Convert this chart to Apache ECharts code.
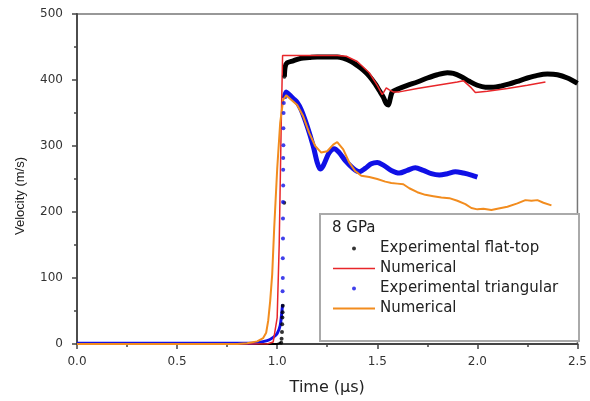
<!DOCTYPE html>
<html>
<head>
<meta charset="utf-8">
<script src="https://cdn.jsdelivr.net/npm/echarts@6/dist/echarts.min.js"></script>
<style>html,body{margin:0;padding:0;background:#fff;}#c{width:590px;height:401px;}</style>
</head>
<body>
<div id="c"></div>
<script>
// ---- data (time in µs, velocity in m/s) ----
var xTicks = [0.0, 0.5, 1.0, 1.5, 2.0, 2.5];
var yTicks = [0, 100, 200, 300, 400, 500];

var flatTopRiseDots = [[1.020,2],[1.022,8],[1.024,18],[1.025,30],[1.026,40],[1.027,48],[1.028,58],[1.035,214],[1.036,405]];
var flatTopBand = [[1.036,405],[1.04,420],[1.05,426],[1.08,429],[1.12,433],[1.16,434],[1.2,435],[1.25,435],[1.3,435],[1.33,433],[1.37,428],[1.40,422],[1.43,415],[1.46,406],[1.49,394],[1.51,384],[1.53,374],[1.545,364],[1.555,362],[1.565,372],[1.575,382],[1.6,386],[1.65,392],[1.7,397],[1.75,403],[1.8,408],[1.85,411],[1.88,410],[1.92,405],[1.96,398],[2.0,392],[2.04,389],[2.08,389],[2.12,391],[2.16,394],[2.2,398],[2.25,403],[2.3,407],[2.35,409],[2.4,408],[2.45,403],[2.5,395]];
var flatTopBase = [[0,0],[1.0,0],[1.02,2]];

var numFlat = [[0,0],[0.95,0],[0.98,3],[1.0,40],[1.01,150],[1.02,330],[1.027,437],[1.1,437],[1.2,437],[1.3,437],[1.345,436],[1.4,428],[1.46,411],[1.5,392],[1.525,378],[1.545,388],[1.56,385],[1.58,382],[1.61,382],[1.7,387],[1.8,392],[1.9,397],[1.93,399],[1.97,388],[1.99,381],[2.05,383],[2.15,387],[2.25,392],[2.34,397]];

var triBase = [[0,1],[0.85,1],[0.9,2],[0.95,5],[0.98,10],[1.0,16],[1.015,28],[1.022,45],[1.027,60]];
var triRiseDots = [[1.027,80],[1.028,100],[1.028,130],[1.029,160],[1.029,190],[1.029,215],[1.030,240],[1.030,264],[1.030,282],[1.031,301],[1.031,327],[1.032,350],[1.033,365]];
var triBand = [[1.034,372],[1.045,382],[1.06,378],[1.08,372],[1.1,366],[1.12,355],[1.15,330],[1.18,300],[1.2,275],[1.215,265],[1.23,270],[1.26,290],[1.285,296],[1.31,290],[1.34,278],[1.38,266],[1.41,261],[1.44,266],[1.47,273],[1.5,275],[1.53,271],[1.57,263],[1.61,259],[1.65,263],[1.69,267],[1.73,263],[1.77,258],[1.81,256],[1.85,258],[1.89,261],[1.93,259],[1.97,256],[2.0,253]];

var numTri = [[0,0],[0.8,0],[0.85,1],[0.9,4],[0.93,9],[0.945,17],[0.955,35],[0.965,65],[0.975,105],[0.985,175],[1.0,265],[1.015,335],[1.03,370],[1.045,377],[1.07,370],[1.1,362],[1.13,345],[1.16,320],[1.19,300],[1.22,290],[1.25,292],[1.28,302],[1.30,306],[1.33,295],[1.36,275],[1.39,262],[1.42,255],[1.46,253],[1.5,250],[1.54,246],[1.57,244],[1.6,243],[1.63,242],[1.66,236],[1.7,230],[1.74,226],[1.78,224],[1.82,222],[1.86,221],[1.9,217],[1.94,212],[1.97,206],[2.0,204],[2.03,205],[2.07,203],[2.1,205],[2.15,208],[2.2,213],[2.24,218],[2.27,217],[2.3,218],[2.33,214],[2.37,210]];

var legendTitle = '8 GPa';
var nameFlat = 'Experimental flat-top';
var nameNumA = 'Numerical';
var nameTri = 'Experimental triangular';
var nameNumB = 'Numerical '; // displayed trimmed

var FONT = 'DejaVu Sans, Verdana, sans-serif';
var chart = echarts.init(document.getElementById('c'), null, {renderer: 'canvas'});
chart.setOption({
  animation: false,
  backgroundColor: '#fff',
  grid: {left: 77, right: 11, top: 14, bottom: 57, show: true, borderColor: '#777', borderWidth: 1.5, backgroundColor: 'transparent'},
  title: {text: legendTitle, left: 332, top: 221, padding: 0, textStyle: {fontSize: 15, fontWeight: 'normal', color: '#222', fontFamily: FONT}},
  graphic: [{type: 'rect', z: 3, shape: {x: 320, y: 214, width: 259, height: 127}, style: {fill: '#fff', stroke: '#aaa', lineWidth: 2}}],
  legend: {
    orient: 'vertical', left: 333, top: 241, itemWidth: 42, itemHeight: 4, itemGap: 5, padding: 0,
    data: [
      {name: nameFlat},
      {name: nameNumA, icon: 'path://M0 0H40V1.5H0Z'},
      {name: nameTri},
      {name: nameNumB, icon: 'path://M0 0H40V2H0Z'}
    ],
    formatter: function (n) { return n.trim(); },
    textStyle: {fontSize: 15, color: '#222', fontFamily: FONT}
  },
  xAxis: {
    type: 'value', min: 0, max: 2.5, interval: 0.5,
    name: 'Time (μs)', nameLocation: 'middle', nameGap: 36,
    nameTextStyle: {fontSize: 16, color: '#222', fontFamily: FONT},
    axisLine: {onZero: false, lineStyle: {color: '#444', width: 1.8}},
    axisTick: {show: true, inside: false, length: 5, lineStyle: {color: '#444', width: 1.5}},
    minorTick: {show: true, splitNumber: 2, length: 3, lineStyle: {color: '#444', width: 1.5}},
    axisLabel: {fontSize: 12, color: '#333', margin: 12, fontFamily: FONT, formatter: function (v) { return v.toFixed(1); }},
    splitLine: {show: false}
  },
  yAxis: {
    type: 'value', min: 0, max: 500, interval: 100,
    name: 'Velocity (m/s)', nameLocation: 'middle', nameGap: 50,
    nameTextStyle: {fontSize: 13, color: '#222', fontFamily: 'Liberation Sans, Arial, sans-serif', padding: [0, 34, 0, 0]},
    axisLine: {show: true, onZero: false, lineStyle: {color: '#444', width: 1.8}},
    axisTick: {show: true, inside: false, length: 5, lineStyle: {color: '#444', width: 1.5}},
    minorTick: {show: true, splitNumber: 2, length: 3, lineStyle: {color: '#444', width: 1.5}},
    axisLabel: {fontSize: 12, color: '#333', margin: 14, fontFamily: FONT},
    splitLine: {show: false}
  },
  series: [
    {name: nameFlat, type: 'scatter', data: flatTopRiseDots, symbolSize: 4, itemStyle: {color: '#000'}, z: 2},
    {name: nameFlat, type: 'line', data: flatTopBand, symbol: 'none', smooth: 0.3, lineStyle: {color: '#000', width: 5}, itemStyle: {color: '#000'}, z: 2},
    {name: nameFlat, type: 'line', data: flatTopBase, symbol: 'none', lineStyle: {color: '#000', width: 2}, itemStyle: {color: '#000'}, z: 2},
    {name: nameTri, type: 'scatter', data: triRiseDots, symbolSize: 4, itemStyle: {color: '#1010e6'}, z: 2},
    {name: nameTri, type: 'line', data: triBand, symbol: 'none', smooth: 0.3, lineStyle: {color: '#1010e6', width: 5}, itemStyle: {color: '#1010e6'}, z: 2},
    {name: nameTri, type: 'line', data: triBase, symbol: 'none', smooth: 0.3, lineStyle: {color: '#1010e6', width: 3}, itemStyle: {color: '#1010e6'}, z: 2},
    {name: nameNumA, type: 'line', data: numFlat, symbol: 'none', lineStyle: {color: '#e8262a', width: 1.5}, itemStyle: {color: '#e8262a'}, z: 2},
    {name: nameNumB, type: 'line', data: numTri, symbol: 'none', lineStyle: {color: '#f28c1e', width: 2}, itemStyle: {color: '#f28c1e'}, z: 2}
  ]
});
</script>
</body>
</html>
